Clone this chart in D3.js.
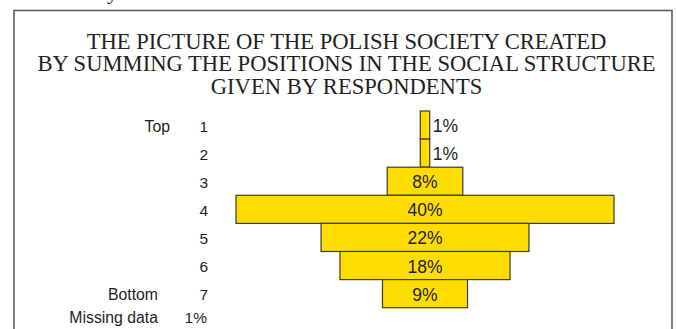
<!DOCTYPE html>
<html>
<head>
<meta charset="utf-8">
<script src="https://cdn.jsdelivr.net/npm/d3@7"></script>
<style>
  html, body { margin: 0; padding: 0; background: #fff; }
  svg { display: block; }
</style>
</head>
<body>
<script>
// Positions in the social structure (1 = top, 7 = bottom)
const levels = ["1", "2", "3", "4", "5", "6", "7"];
const shares = [1, 1, 8, 40, 22, 18, 9];          // % of respondents
const sideLabels = ["Top", "", "", "", "", "", "Bottom"];
const missingLabel = "Missing data";
const missingShare = 1;
const titleLines = [
  "THE PICTURE OF THE POLISH SOCIETY CREATED",
  "BY SUMMING THE POSITIONS IN THE SOCIAL STRUCTURE",
  "GIVEN BY RESPONDENTS"
];

const W = 677, H = 329;
const svg = d3.select("body").append("svg").attr("width", W).attr("height", H);

// tail of the caption line sitting above the frame
svg.append("text")
  .attr("x", 107).attr("y", -1)
  .attr("font-family", "Liberation Serif, Times New Roman, serif")
  .attr("font-size", 22).attr("fill", "#231f20")
  .text("y");

// frame (open at the bottom)
svg.append("path")
  .attr("d", `M14,${H + 2} V10.5 H672 V${H + 2}`)
  .attr("fill", "none").attr("stroke", "#555").attr("stroke-width", 1.5);

// title
const title = svg.append("text")
  .attr("font-family", "Liberation Serif, Times New Roman, serif")
  .attr("font-size", 22.6).attr("fill", "#231f20")
  .attr("text-anchor", "middle");
title.selectAll("tspan").data(titleLines).join("tspan")
  .attr("x", 346.5)
  .attr("y", (d, i) => 48.5 + i * 22.6)
  .text(d => d);

// pyramid
const cx = 425;
const y = d3.scaleBand().domain(levels).range([111, 307.7]).padding(0);
const w = d3.scaleLinear().domain([0, 40]).range([0, 378]);
const rows = levels.map((l, i) => ({ level: l, value: shares[i], side: sideLabels[i] }));

svg.append("g").selectAll("rect").data(rows).join("rect")
  .attr("x", d => cx - w(d.value) / 2)
  .attr("y", d => y(d.level))
  .attr("width", d => w(d.value))
  .attr("height", y.bandwidth())
  .attr("fill", "#ffdd00")
  .attr("stroke", "#3a3a3a")
  .attr("stroke-width", 1.2);

const sans = "Liberation Sans, Arial, Helvetica, sans-serif";

svg.append("g").selectAll("text").data(rows).join("text")
  .attr("font-family", sans).attr("font-size", 17.5).attr("fill", "#231f20")
  .attr("dominant-baseline", "central")
  .attr("text-anchor", d => d.value >= 5 ? "middle" : "start")
  .attr("x", d => d.value >= 5 ? cx : cx + w(d.value) / 2 + 3)
  .attr("y", d => y(d.level) + y.bandwidth() / 2 + 1)
  .text(d => d.value + "%");

// level numbers
svg.append("g").selectAll("text").data(rows).join("text")
  .attr("font-family", sans).attr("font-size", 15.5).attr("fill", "#231f20")
  .attr("dominant-baseline", "central").attr("text-anchor", "end")
  .attr("x", 208)
  .attr("y", d => y(d.level) + y.bandwidth() / 2 + 1)
  .text(d => d.level);

// Top / Bottom descriptors
svg.append("g").selectAll("text").data(rows.filter(d => d.side)).join("text")
  .attr("font-family", sans).attr("font-size", 15.8).attr("fill", "#231f20")
  .attr("dominant-baseline", "central").attr("text-anchor", "end")
  .attr("x", d => d.side === "Top" ? 170 : 158)
  .attr("y", d => y(d.level) + y.bandwidth() / 2 + 1)
  .text(d => d.side);

// missing data row
const missY = y("7") + y.bandwidth() * 1.5 - 4;
svg.append("text")
  .attr("font-family", sans).attr("font-size", 15.8).attr("fill", "#231f20")
  .attr("dominant-baseline", "central").attr("text-anchor", "end")
  .attr("x", 158).attr("y", missY)
  .text(missingLabel);
svg.append("text")
  .attr("font-family", sans).attr("font-size", 15.5).attr("fill", "#231f20")
  .attr("dominant-baseline", "central").attr("text-anchor", "end")
  .attr("x", 207).attr("y", missY)
  .text(missingShare + "%");
</script>
</body>
</html>
